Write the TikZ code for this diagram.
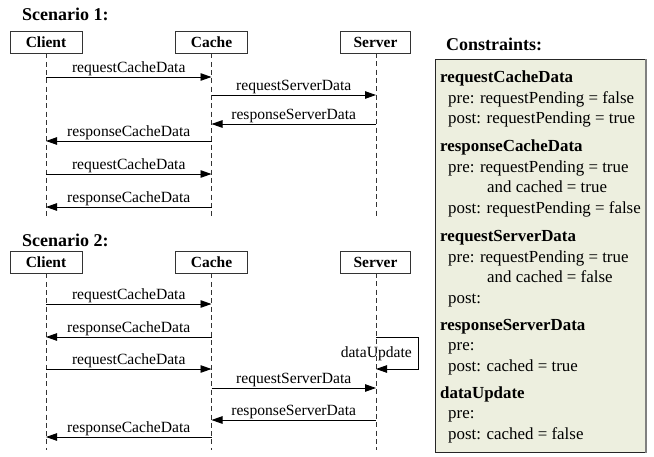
\documentclass[tikz,border=0pt]{standalone}
\usepackage{fontspec}
\setmainfont{Liberation Serif}
\usetikzlibrary{arrows.meta}
\definecolor{cbg}{HTML}{EDEFDF}
\tikzset{
 lifebox/.style={draw=black!80, line width=0.9pt, fill=white, minimum width=72pt, minimum height=22pt, inner sep=0pt, font=\fontsize{15.5}{18}\bfseries\selectfont},
 lifeline/.style={draw=black!80, line width=0.9pt, dash pattern=on 5pt off 3.3pt},
 msg/.style={line width=0.9pt, -{Triangle[length=11pt,width=7.5pt]}},
 msglabel/.style={anchor=base, inner sep=0pt, font=\fontsize{15.6}{18}\selectfont},
 heading/.style={anchor=base west, inner sep=0pt, font=\fontsize{18}{21}\bfseries\selectfont},
 chead/.style={anchor=base west, inner sep=0pt, font=\fontsize{16.9}{20}\bfseries\selectfont},
 ctext/.style={anchor=base west, inner sep=0pt, font=\fontsize{16.9}{20}\selectfont},
}
\begin{document}
\begin{tikzpicture}[x=1pt,y=-1pt]
\useasboundingbox (0,0) rectangle (654,456);

% ---------- Scenario 1 ----------
\node[heading] (h1) at (22,20) {Scenario 1:};
\node[lifebox] (cl1) at (46,42) {Client};
\node[lifebox] (ca1) at (211.5,42) {Cache};
\node[lifebox, minimum width=70pt] (sv1) at (375.5,42) {Server};
\coordinate (cl1e) at (46,218);
\coordinate (ca1e) at (211.5,218);
\coordinate (sv1e) at (376,218);
\draw[lifeline] (cl1.south) -- (cl1e);
\draw[lifeline] (ca1.south) -- (ca1e);
\draw[lifeline] (376,53) -- (sv1e);

\coordinate (p1a) at (46,77);    \coordinate (p1b) at (211.5,77);
\coordinate (p2a) at (211.5,95); \coordinate (p2b) at (376,95);
\coordinate (p3a) at (376,124);  \coordinate (p3b) at (211.5,124);
\coordinate (p4a) at (211.5,141);\coordinate (p4b) at (46,141);
\coordinate (p5a) at (46,174);   \coordinate (p5b) at (211.5,174);
\coordinate (p6a) at (211.5,207);\coordinate (p6b) at (46,207);
\draw[msg] (p1a) -- node[msglabel, yshift=4.5pt] (l1) {requestCacheData} (p1b);
\draw[msg] (p2a) -- node[msglabel, yshift=4.5pt] (l2) {requestServerData} (p2b);
\draw[msg] (p3a) -- node[msglabel, yshift=4.5pt] (l3) {responseServerData} (p3b);
\draw[msg] (p4a) -- node[msglabel, yshift=4.5pt] (l4) {responseCacheData} (p4b);
\draw[msg] (p5a) -- node[msglabel, yshift=4.5pt] (l5) {requestCacheData} (p5b);
\draw[msg] (p6a) -- node[msglabel, yshift=4.5pt] (l6) {responseCacheData} (p6b);

% ---------- Scenario 2 ----------
\node[heading] (h2) at (22,246.5) {Scenario 2:};
\node[lifebox] (cl2) at (46,262) {Client};
\node[lifebox] (ca2) at (211.5,262) {Cache};
\node[lifebox, minimum width=70pt] (sv2) at (375.5,262) {Server};
\coordinate (cl2e) at (46,450);
\coordinate (ca2e) at (211.5,450);
\coordinate (sv2e) at (376,450);
\draw[lifeline] (cl2.south) -- (cl2e);
\draw[lifeline] (ca2.south) -- (ca2e);
\draw[lifeline] (376,273) -- (sv2e);

\coordinate (q1a) at (46,304);    \coordinate (q1b) at (211.5,304);
\coordinate (q2a) at (211.5,337); \coordinate (q2b) at (46,337);
\coordinate (q3a) at (46,369);    \coordinate (q3b) at (211.5,369);
\coordinate (q4a) at (211.5,388); \coordinate (q4b) at (376,388);
\coordinate (q5a) at (376,420);   \coordinate (q5b) at (211.5,420);
\coordinate (q6a) at (211.5,437); \coordinate (q6b) at (46,437);
\draw[msg] (q1a) -- node[msglabel, yshift=4.5pt] (k1) {requestCacheData} (q1b);
\draw[msg] (q2a) -- node[msglabel, yshift=4.5pt] (k2) {responseCacheData} (q2b);
\draw[msg] (q3a) -- node[msglabel, yshift=4.5pt] (k3) {requestCacheData} (q3b);
\draw[msg] (q4a) -- node[msglabel, yshift=4.5pt] (k4) {requestServerData} (q4b);
\draw[msg] (q5a) -- node[msglabel, yshift=4.5pt] (k5) {responseServerData} (q5b);
\draw[msg] (q6a) -- node[msglabel, yshift=4.5pt] (k6) {responseCacheData} (q6b);

\coordinate (d1) at (376,337);
\coordinate (d2) at (418.5,337);
\coordinate (d3) at (418.5,369);
\coordinate (d4) at (376,369);
\draw[msg] (d1) -- (d2) -- (d3) -- (d4);
\node[msglabel, anchor=base east] (du) at (412,357.5) {dataUpdate};

% ---------- Constraints ----------
\node[heading] (h3) at (446,50) {Constraints:};
\path[draw=black!85, line width=1pt, fill=cbg] (435,59) rectangle (645,452);
\draw[black!50, line width=2.2pt] (646,59) -- (646,453);

\node[chead] (c1) at (440,82) {requestCacheData};
\node[ctext] (c1a) at (448,103) {pre: requestPending = false};
\node[ctext] (c1b) at (448,123) {post: requestPending = true};

\node[chead] (c2) at (440,151) {responseCacheData};
\node[ctext] (c2a) at (448,172) {pre: requestPending = true};
\node[ctext] (c2b) at (487,192) {and cached = true};
\node[ctext] (c2c) at (448,213) {post: requestPending = false};

\node[chead] (c3) at (440,241) {requestServerData};
\node[ctext] (c3a) at (448,262) {pre: requestPending = true};
\node[ctext] (c3b) at (487,282) {and cached = false};
\node[ctext] (c3c) at (448,303) {post:};

\node[chead] (c4) at (440,330) {responseServerData};
\node[ctext] (c4a) at (448,350) {pre:};
\node[ctext] (c4b) at (448,371) {post: cached = true};

\node[chead] (c5) at (440,398) {dataUpdate};
\node[ctext] (c5a) at (448,418) {pre:};
\node[ctext] (c5b) at (448,439) {post: cached = false};
\end{tikzpicture}
\end{document}
